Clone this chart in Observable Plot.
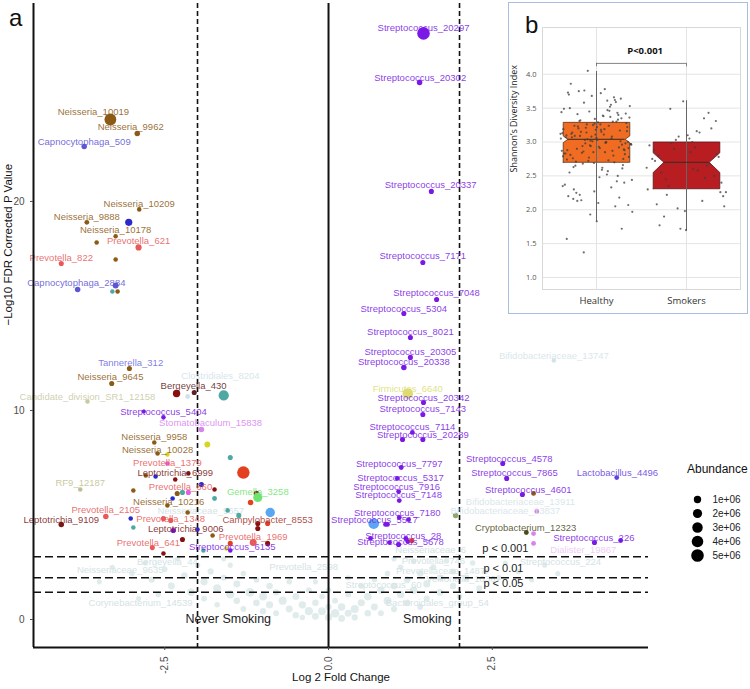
<!DOCTYPE html>
<html><head><meta charset="utf-8">
<script src="https://cdn.jsdelivr.net/npm/d3@7"></script>
<script src="https://cdn.jsdelivr.net/npm/@observablehq/plot@0.6"></script>
<style>
body{margin:0;background:#fff;font-family:"Liberation Sans",Arial,sans-serif;}
#wrap{position:relative;width:750px;height:689px;overflow:hidden;background:#fff;}
#main{position:absolute;left:0;top:0;}
#inset{position:absolute;left:508px;top:2px;width:240px;height:312px;box-sizing:border-box;border:1.5px solid #a9bedf;background:#fff;}
#insetPlot{position:absolute;left:0;top:0;}
#legend{position:absolute;left:685px;top:478px;}
.tag{position:absolute;font-size:24px;color:#111;line-height:1;}
#legTitle{position:absolute;left:687px;top:462px;font-size:12px;color:#111;}
svg{overflow:visible;}
</style></head>
<body><div id="wrap">
<div id="main"></div>
<div class="tag" style="left:9px;top:6px;">a</div>
<div id="inset"><div id="insetPlot"></div><div class="tag" style="left:16px;top:10px;">b</div></div>
<div id="legTitle">Abundance</div>
<div id="legend"></div>
</div>
<script>
// ---------- DATA: volcano plot (panel a) ----------
const xTicks = [-2.5, 0, 2.5];
const yTicks = [0, 10, 20];
const fcThresholds = [-2, 2];
const pThresholds = [3, 2, 1.3];
const pThresholdText = ["p < 0.001", "p < 0.01", "p < 0.05"];
const pTextX = [2.70, 2.67, 2.67];
const pTextY = [3.40, 2.44, 1.72];
const sideText = ["Never Smoking", "Smoking"];
const sideX = [-1.53, 1.51];

// significant taxa (dots)
const ptX = [-3.33,-2.92,-3.73,-2.89,-3.69,-3.05,-3.25,-3.54,-2.90,-4.08,-3.25,-3.83,-3.25,-3.30,-3.22,-3.04,-3.31,-3.68,-2.15,-2.32,-2.05,-1.60,-2.82,-2.52,-1.94,-2.66,-1.85,-2.61,-2.46,-1.50,-2.46,-1.30,-2.79,-2.34,-2.14,-2.64,-1.94,-1.74,-2.98,-3.79,-2.23,-2.14,-2.31,-1.74,-1.10,-1.08,-1.19,-2.38,-2.46,-2.15,-1.54,-1.37,-0.89,-3.40,-4.08,-3.02,-2.52,-2.41,-1.08,-0.93,-2.98,-2.00,-2.37,-1.77,-1.08,-2.23,-1.50,-1.15,-0.93,-2.69,-1.56,-1.50,-1.91,-2.52,
 1.45,1.39,1.57,1.44,1.65,1.15,1.25,1.25,1.15,1.21,1.45,1.44,1.28,1.44,1.13,2.66,1.11,2.72,4.40,1.05,1.07,2.96,3.13,1.08,3.18,1.08,0.69,0.87,3.02,1.18,1.07,1.27,4.06,4.46,3.13,3.13,3.44,1.94,0.90,1.22,0.64,1.21,0.93];
const ptY = [23.92,23.25,22.63,19.62,19.00,19.00,18.33,18.04,17.80,17.03,17.22,15.79,15.98,15.69,15.69,12.01,11.29,10.43,10.67,10.81,10.86,10.72,9.95,9.67,9.09,8.47,8.37,7.94,7.89,7.75,7.46,7.03,6.89,6.70,6.99,6.84,6.46,6.22,6.17,6.22,6.08,6.08,6.03,5.79,6.03,5.84,5.60,5.79,5.45,5.12,5.22,4.98,5.12,4.93,4.55,4.83,4.83,4.74,4.59,4.59,4.40,4.31,4.26,4.02,4.35,3.83,3.64,3.68,3.64,3.44,3.40,3.30,3.30,3.16,
 28.04,25.69,20.48,17.08,15.31,14.64,13.49,12.54,12.06,10.81,10.38,9.81,8.95,8.61,8.61,7.46,7.27,6.75,6.79,6.75,6.12,5.98,6.03,5.69,5.17,4.88,4.59,4.55,4.16,3.88,3.59,3.78,3.68,3.78,4.11,3.64,12.39,4.98,4.55,4.78,3.88,3.73,3.68];
const ptAbundance = [4.2e6,3e5,3e5,1e5,1.5e5,9e5,1e5,1e5,5e5,2e5,1e5,3e5,4e5,1e5,1e5,2e5,2e5,1e5,1.5e5,1e6,2e5,2.8e6,5e4,1e5,3e5,1e5,4e5,1e5,1e5,2e5,1e5,4.8e6,1e5,1e5,1e5,1e5,2e5,1e5,1e5,1e5,2e5,2e5,2e5,1.5e5,3e5,2e6,3e5,1e5,1e5,1e5,1e5,2e5,2.2e6,3e5,3e5,1e5,2e5,2e5,2e5,2e5,1e5,1e5,2e5,1e5,2e5,2e5,2e5,8e5,2e5,2e5,1e5,1e5,1e5,1e5,
 5e6,3e5,2e5,2e5,2e5,2e5,2e5,2e5,3e5,3e6,2e5,2e5,1.5e5,2e5,2e5,2e5,1.5e5,2e5,1.5e5,1.5e5,1.5e5,2e5,1.5e5,1.5e5,1.5e5,1.5e5,3.2e6,1.5e5,1.5e5,1.5e5,2e5,2e5,2e5,1.5e5,1.5e5,1.5e5,1e5,3e5,1.5e5,1.5e5,1.5e5,1.5e5,1.5e5];
const ptGroup = ["Neisseria","Neisseria","Capnocytophaga","Neisseria","Neisseria","blue","Neisseria","Neisseria","Prevotella","Prevotella","Neisseria","Capnocytophaga","Capnocytophaga","teal","Neisseria","Neisseria","Neisseria","SR1","Clostridiales","darkred","Bergeyella","teal","Streptococcus","Streptococcus","Stomatobaculum","Neisseria","yellow","Neisseria","yellow","teal","magenta","red","Neisseria","darkred","Leptotrichia","blue","blue","darkred","Neisseria","RF9","teal","magenta","Neisseria","teal","darkred","Gemella","red","blue","Neisseria","Neisseria","teal","teal","lightblue","Prevotella","Leptotrichia","blue","Prevotella","Prevotella","darkred","red","teal","blue","Streptococcus","Neisseria","darkred","darkred","red","Prevotella","darkred","Prevotella","yellow","Streptococcus","teal","darkred",
 "Streptococcus","Streptococcus","Streptococcus","Streptococcus","Streptococcus","Streptococcus","Streptococcus","Streptococcus","Streptococcus","Firmicutes","Streptococcus","Streptococcus","Streptococcus","Streptococcus","Streptococcus","Streptococcus","Streptococcus","Streptococcus","Lactobacillus","Streptococcus","Streptococcus","Streptococcus","Neisseria","Streptococcus","Stomatobaculum","Streptococcus","lightblue","Streptococcus","Cryptobacterium","Streptococcus","Streptococcus","red","Streptococcus","Streptococcus","Stomatobaculum","Stomatobaculum","Bifidobacteriaceae","olive","Streptococcus","Streptococcus","Streptococcus","Streptococcus","Streptococcus"];

// labels (ggrepel positions, data units)
const labelText = ["Neisseria_10019","Neisseria_9962","Capnocytophaga_509","Neisseria_10209","Neisseria_9888","Neisseria_10178","Prevotella_621","Prevotella_822","Capnocytophaga_2884","Tannerella_312","Neisseria_9645","Candidate_division_SR1_12158","Clostridiales_8204","Bergeyella_430","Streptococcus_5404","Stomatobaculum_15838","Neisseria_9958","Neisseria_10028","Prevotella_1379","Leptotrichia_6999","Prevotella_660","RF9_12187","Gemella_3258","Neisseria_10216","Prevotella_2105","Leptotrichia_9109","Prevotella_1348","Campylobacter_8553","Leptotrichia_9006","Prevotella_1969","Prevotella_641","Streptococcus_6135",
 "Streptococcus_20297","Streptococcus_20302","Streptococcus_20337","Streptococcus_7171","Streptococcus_7048","Streptococcus_5304","Streptococcus_8021","Streptococcus_20305","Streptococcus_20338","Firmicutes_6640","Streptococcus_20342","Streptococcus_7143","Streptococcus_7114","Streptococcus_20289","Streptococcus_4578","Streptococcus_7797","Streptococcus_7865","Lactobacillus_4496","Streptococcus_5317","Streptococcus_7916","Streptococcus_4601","Streptococcus_7148","Streptococcus_7180","Streptococcus_5517","Cryptobacterium_12323","Streptococcus_28","Streptococcus_5678","Streptococcus_226","Dialister_19867","Bifidobacteriaceae_13747","Bifidobacteriaceae_13911","Bifidobacteriaceae_13837"];
const labelX = [-3.59,-3.02,-3.73,-2.89,-3.69,-3.25,-2.90,-4.08,-3.85,-3.02,-3.33,-3.68,-1.65,-2.06,-2.52,-1.80,-2.66,-2.61,-2.46,-2.34,-2.26,-3.79,-1.08,-2.44,-3.40,-4.08,-2.41,-0.93,-2.18,-1.15,-2.75,-1.47,
 1.45,1.40,1.56,1.44,1.65,1.15,1.25,1.25,1.15,1.21,1.45,1.44,1.28,1.44,2.76,1.08,2.84,4.41,1.10,1.04,3.05,1.07,1.05,0.70,3.01,1.14,1.10,4.05,3.89,3.44,2.93,2.70];
const labelY = [24.26,23.54,22.87,19.90,19.28,18.66,18.09,17.32,16.08,12.25,11.58,10.67,11.63,11.15,9.95,9.38,8.71,8.13,7.51,6.99,6.36,6.51,6.08,5.60,5.22,4.78,4.83,4.78,4.31,3.97,3.68,3.49,
 28.28,25.93,20.77,17.37,15.60,14.88,13.78,12.82,12.34,11.05,10.62,10.05,9.19,8.85,7.70,7.46,6.99,7.03,6.79,6.32,6.22,5.98,5.12,4.78,4.40,4.02,3.73,3.92,3.35,12.63,5.60,5.17];
const labelGroup = ["Neisseria","Neisseria","Capnocytophaga","Neisseria","Neisseria","Neisseria","Prevotella","Prevotella","Capnocytophaga","Tannerella","Neisseria","SR1","Clostridiales","Bergeyella","Streptococcus","Stomatobaculum","Neisseria","Neisseria","Prevotella","Leptotrichia","Prevotella","RF9","Gemella","Neisseria","Prevotella","Leptotrichia","Prevotella","Campylobacter","Leptotrichia","Prevotella","Prevotella","Streptococcus",
 "Streptococcus","Streptococcus","Streptococcus","Streptococcus","Streptococcus","Streptococcus","Streptococcus","Streptococcus","Streptococcus","Firmicutes","Streptococcus","Streptococcus","Streptococcus","Streptococcus","Streptococcus","Streptococcus","Streptococcus","Lactobacillus","Streptococcus","Streptococcus","Streptococcus","Streptococcus","Streptococcus","Streptococcus","Cryptobacterium","Streptococcus","Streptococcus","Streptococcus","Dialister","Bifidobacteriaceae","Bifidobacteriaceae","Bifidobacteriaceae"];

// non-significant taxa (grey cloud)
const nsX = [-3.3,-3.0,-2.8,-2.7,-2.5,-2.4,-2.3,-2.2,-2.1,-2.0,-1.9,-1.9,-1.8,-1.7,-1.7,-1.6,-1.5,-1.5,-1.4,-1.4,-1.3,-1.3,-1.2,-1.1,-1.1,-1.0,-1.0,-0.9,-0.9,-0.8,-0.8,-0.7,-0.6,-0.6,-0.5,-0.5,-0.4,-0.4,-0.3,-0.3,-0.2,-0.2,-0.1,-0.1,0.0,0.0,0.1,0.1,0.2,0.2,0.3,0.3,0.4,0.4,0.5,0.5,0.6,0.6,0.7,0.7,0.8,0.8,0.9,0.9,1.0,1.0,1.1,1.1,1.2,1.2,1.3,1.3,1.4,1.4,1.5,1.5,1.6,1.7,1.7,1.8,1.9,1.9,2.0,2.1,2.2,2.3,2.4,2.6,2.7,2.9,3.1,3.3,3.5,-3.5,-2.6,-2.9,0.0,-0.2,0.3,-1.6,1.0];
const nsY = [2.5,2.2,2.7,1.9,2.4,1.6,2.9,2.1,1.3,2.6,1.8,1.0,2.3,1.5,0.7,2.0,1.2,2.6,0.9,1.7,0.5,2.2,1.3,0.8,1.9,0.4,1.1,1.6,0.7,0.3,1.3,0.9,0.5,1.8,0.2,1.1,0.7,0.1,0.4,1.4,0.15,0.8,0.4,1.1,0.1,0.6,0.3,0.9,0.05,0.6,0.3,1.2,0.5,0.1,0.8,1.6,0.3,1.1,0.6,1.9,1.4,0.3,0.9,2.2,1.6,0.5,1.2,2.5,0.8,1.9,1.4,2.8,0.6,2.2,1.7,1.0,2.5,1.3,2.0,2.8,1.6,2.3,1.1,2.0,2.7,1.5,2.3,2.0,2.7,2.3,1.9,2.6,2.2,1.8,1.2,1.0,1.4,1.8,2.0,2.9,2.9];
const nsAbundance = [2e5,3e5,2e5,5e5,3e5,8e5,2e5,6e5,1e6,3e5,9e5,4e5,5e5,1.2e6,3e5,4e5,1.5e6,2e5,6e5,8e5,4e5,3e5,1.8e6,7e5,4e5,5e5,1.2e6,6e5,9e5,4e5,5e5,1.5e6,8e5,3e5,6e5,7e5,1e6,3e5,1.4e6,4e5,8e5,6e5,1.2e6,3e5,9e5,5e5,1.6e6,4e5,7e5,1e6,8e5,4e5,1.3e6,5e5,9e5,3e5,6e5,1.1e6,8e5,3e5,9e5,4e5,1.2e6,3e5,7e5,5e5,1e6,3e5,6e5,8e5,1.1e6,3e5,4e5,6e5,9e5,5e5,4e5,7e5,5e5,3e5,6e5,4e5,3e5,5e5,3e5,4e5,3e5,3e5,2e5,3e5,2e5,2e5,2e5,2e5,3e5,2e5,3e5,2e5,2e5,2e5,2e5];
const nsLabelText = ["Neisseriaceae_9657","Bergeyella_44","Neisseriaceae_9635","Corynebacterium_14539","Prevotella_2598","Neisseriaceae_6","Prevotella_746","Prevotellaceae_1487","Streptococcus_60","Veillonella_1036","Bacteroidales_group_54","Streptococcus_224"];
const nsLabelX = [-1.95,-2.46,-3.18,-2.87,-0.38,1.56,1.60,1.71,0.84,2.02,1.66,3.54];
const nsLabelY = [5.17,2.73,2.39,0.81,2.49,3.35,2.82,2.34,1.63,1.96,0.81,2.73];

// legend
const legendValues = [1e6, 2e6, 3e6, 4e6, 5e6];
const legendLabels = ["1e+06", "2e+06", "3e+06", "4e+06", "5e+06"];

// ---------- DATA: Shannon diversity boxplot (panel b) ----------
const bGroups = ["Healthy", "Smokers"];
const bQ1 = [2.70, 2.31];
const bMedian = [3.04, 2.70];
const bQ3 = [3.29, 3.00];
const bNotchLo = [2.99, 2.55];
const bNotchHi = [3.09, 2.84];
const bWhiskerLo = [1.83, 1.69];
const bWhiskerHi = [4.04, 3.61];
const bYTicks = [1.0, 1.5, 2.0, 2.5, 3.0, 3.5, 4.0];
const bPText = "P<0.001";
const healthyValues = [3.12,2.85,3.41,2.96,3.27,2.74,3.05,3.58,2.91,3.18,2.63,3.33,3.02,2.79,3.47,3.09,2.88,3.22,2.55,3.66,3.14,2.97,3.38,2.71,3.01,3.25,2.83,3.52,2.94,3.16,2.48,3.07,3.30,2.77,3.44,2.99,3.20,2.66,3.11,3.73,2.87,3.03,3.36,2.59,3.24,2.92,3.08,3.49,2.73,3.15,2.98,3.29,2.81,3.62,3.04,2.44,3.19,2.90,3.35,2.69,3.10,3.55,2.86,3.00,3.26,2.76,3.43,2.95,3.13,2.52,3.31,2.89,3.06,3.70,2.80,3.21,2.97,3.39,2.65,3.17,3.01,2.37,3.46,2.84,3.28,2.93,3.12,3.59,2.72,3.05,2.99,3.23,2.61,3.34,2.88,3.08,3.76,2.78,3.15,2.30,3.40,2.94,3.19,2.57,3.32,2.82,3.03,3.50,2.70,3.26,2.96,3.11,2.25,3.64,2.85,3.07,3.37,2.68,3.22,2.91,3.14,2.42,3.45,2.87,3.00,3.75,2.75,3.18,2.20,3.30,2.98,3.53,2.62,3.09,2.18,3.68,2.83,3.24,2.14,3.42,2.10,3.86,2.05,4.05,1.97,3.78,2.13,1.72,2.27,1.57,2.33,1.37,2.07,3.72,2.16,2.50,1.93,2.35,3.61,2.22,2.40,1.83];
const smokerValues = [3.49,2.26,3.05,2.80,3.43,2.02,2.62,3.16,2.45,3.31,1.98,2.88,3.35,2.70,2.20,3.00,2.55,3.20,1.72,2.95,3.14,2.35,2.78,3.10,2.08,2.65,3.03,2.26,2.92,1.90,2.50,3.60,2.75,2.13,2.98,2.40,2.85,1.77,2.68,3.08,2.30,2.58,2.22,2.82,1.70,2.72,2.47,2.90,2.05,2.60];

// ---------- STYLE ----------
const colorOf = {
  Neisseria:"#8b5a14", Capnocytophaga:"#5d55d6", Prevotella:"#e85a5a", Leptotrichia:"#7a1616",
  Streptococcus:"#7a18e6", Tannerella:"#6b6be6", Bergeyella:"#5e2020", SR1:"#c9c9a5",
  Clostridiales:"#cfe2e8", Stomatobaculum:"#d884ef", RF9:"#bfbf92", Gemella:"#6fe36f",
  Campylobacter:"#a3312a", Firmicutes:"#dcdc70", Lactobacillus:"#6440e0", Cryptobacterium:"#4a4a1c",
  Dialister:"#eec3f5", Bifidobacteriaceae:"#d3e3e8", teal:"#4ea9a3", blue:"#2a2acc",
  lightblue:"#5aa6f2", yellow:"#d6d620", red:"#e2401f", darkred:"#8a1010", magenta:"#e060e0", olive:"#8fa870"
};
const nsColor = "#d5e4e4";
const font = "Liberation Sans, Arial, sans-serif";
const rScale = {type:"sqrt", domain:[0, 5e6], range:[1.6, 6.3]};
const X0 = -4.504, X1 = 4.885, Y0 = -1.34, Y1 = 29.47;

const points = ptX.map((x,i)=>({x, y:ptY[i], ab:ptAbundance[i], col:colorOf[ptGroup[i]]}));
const labels = labelText.map((t,i)=>({t, x:labelX[i], y:labelY[i], col:colorOf[labelGroup[i]]}));
const ns = nsX.map((x,i)=>({x, y:nsY[i], ab:nsAbundance[i]}));
const nsLabels = nsLabelText.map((t,i)=>({t, x:nsLabelX[i], y:nsLabelY[i]}));
const pLabels = pThresholdText.map((t,i)=>({t, x:pTextX[i], y:pTextY[i]}));
const sides = sideText.map((t,i)=>({t, x:sideX[i], y:0}));

const main = Plot.plot({
  width:750, height:689, marginLeft:33, marginRight:102, marginTop:3, marginBottom:42,
  style:{fontFamily:font, background:"transparent"},
  x:{domain:[X0, X1]}, y:{domain:[Y0, Y1]},
  r:rScale, color:{type:"identity"},
  marks:[
    Plot.dot(ns, {x:"x", y:"y", r:"ab", fill:nsColor, fillOpacity:0.75}),
    Plot.text(nsLabels, {x:"x", y:"y", text:"t", fill:"#d4e3e5", fontSize:9.5}),
    Plot.ruleY(pThresholds, {stroke:"#111", strokeWidth:1.6, strokeDasharray:"8,4"}),
    Plot.ruleX(fcThresholds, {stroke:"#111", strokeWidth:1.6, strokeDasharray:"5,3"}),
    Plot.ruleX([0], {stroke:"#111", strokeWidth:2}),
    Plot.dot(points, {x:"x", y:"y", r:"ab", fill:"col", sort:{channel:"r", reverse:true}}),
    Plot.text(labels, {x:"x", y:"y", text:"t", fill:"col", fillOpacity:0.88, fontSize:9.5}),
    Plot.text(pLabels, {x:"x", y:"y", text:"t", fill:"#222", fontSize:11}),
    Plot.text(sides, {x:"x", y:"y", text:"t", fill:"#222", fontSize:12.5}),
    Plot.ruleX([X0], {stroke:"#111", strokeWidth:2}),
    Plot.ruleY([Y0], {stroke:"#111", strokeWidth:2}),
    Plot.axisX({ticks:xTicks, tickFormat:d=>d.toFixed(1), tickRotate:-90, tickSize:3, fontSize:10, color:"#4d4d4d", label:null}),
    Plot.axisY({ticks:yTicks, tickSize:3, fontSize:10, color:"#4d4d4d", label:null}),
    Plot.text(["Log 2 Fold Change"], {frameAnchor:"bottom", dy:33, fontSize:11.5, fill:"#111"}),
    Plot.text(["\u2212Log10 FDR Corrected P Value"], {frameAnchor:"left", rotate:-90, dx:-25, fontSize:11.5, fill:"#111"})
  ]
});
document.getElementById("main").append(main);

// ---------- Panel b ----------
const halfW = 0.37, notchFrac = [0.86, 0.68];
const polys = [];
bGroups.forEach((g,i)=>{
  const c = i+1, h = halfW, n = halfW*notchFrac[i];
  [[c-h,bQ1[i]],[c-h,bNotchLo[i]],[c-n,bMedian[i]],[c-h,bNotchHi[i]],[c-h,bQ3[i]],
   [c+h,bQ3[i]],[c+h,bNotchHi[i]],[c+n,bMedian[i]],[c+h,bNotchLo[i]],[c+h,bQ1[i]],[c-h,bQ1[i]]]
   .forEach(([x,y])=>polys.push({g, x, y}));
});
const boxFill = {Healthy:"#ef6c22", Smokers:"#b81d22"};
const boxStroke = {Healthy:"#5c3418", Smokers:"#5e1416"};
const stats = bGroups.map((g,i)=>({g, c:i+1, lo:bWhiskerLo[i], hi:bWhiskerHi[i], med:bMedian[i], n:halfW*notchFrac[i]}));
const jit = [];
healthyValues.forEach((v,i)=>jit.push({x:1 + (((i*0.6180339)%1)-0.5)*0.8, y:v}));
smokerValues.forEach((v,i)=>jit.push({x:2 + (((i*0.6180339+0.3)%1)-0.5)*0.9, y:v}));

const inset = Plot.plot({
  width:237, height:309, marginLeft:33, marginRight:6, marginTop:24, marginBottom:23,
  style:{fontFamily:"Open Sans, Liberation Sans, sans-serif", background:"transparent"},
  x:{domain:[0.4, 2.6]}, y:{domain:[0.823, 4.69]}, color:{type:"identity"},
  marks:[
    Plot.gridY(bYTicks, {stroke:"#e4e4e4", strokeOpacity:1}),
    Plot.gridX([1,2], {stroke:"#e4e4e4", strokeOpacity:1}),
    Plot.frame({stroke:"#d8d8d8"}),
    Plot.line(polys, {x:"x", y:"y", z:"g", fill:d=>boxFill[d.g], stroke:d=>boxStroke[d.g], strokeWidth:0.8}),
    Plot.ruleX(stats, {x:"c", y1:"lo", y2:"hi", stroke:"#666", strokeWidth:1}),
    Plot.ruleY(stats, {y:"med", x1:d=>d.c-d.n, x2:d=>d.c+d.n, stroke:"#3a2a20", strokeWidth:1}),
    Plot.dot(jit, {x:"x", y:"y", r:1.1, fill:"#3d3d3d", fillOpacity:0.75}),
    Plot.ruleY([4.16], {x1:1, x2:2, stroke:"#666", strokeWidth:0.8}),
    Plot.ruleX([1,2], {y1:4.11, y2:4.16, stroke:"#666", strokeWidth:0.8}),
    Plot.text([bPText], {x:1.54, y:4.34, fontWeight:"bold", fontSize:9.5, fill:"#111"}),
    Plot.axisY({ticks:bYTicks, tickFormat:d=>d.toFixed(1), tickSize:0, tickPadding:6, fontSize:7.5, color:"#555", label:null}),
    Plot.axisX({ticks:[1,2], tickFormat:(d,i)=>bGroups[d-1], tickSize:0, tickPadding:8, fontSize:9.5, color:"#333", label:null}),
    Plot.text(["Shannon\u2019s Diversity Index"], {frameAnchor:"left", rotate:-90, dx:-28, dy:14, fontSize:9, fill:"#222"})
  ]
});
document.getElementById("insetPlot").append(inset);

// ---------- legend ----------
const legend = Plot.plot({
  width:65, height:95, margin:0,
  style:{fontFamily:font, background:"transparent"},
  x:{domain:[0,1], range:[12,60], axis:null}, y:{type:"point", domain:legendValues, range:[12,85], axis:null},
  r:rScale,
  marks:[
    Plot.dot(legendValues, {x:0, y:d=>d, r:d=>d, fill:"#000"}),
    Plot.text(legendValues, {x:0, y:d=>d, text:(d,i)=>legendLabels[i], dx:15, textAnchor:"start", fontSize:10, fill:"#222"})
  ]
});
document.getElementById("legend").append(legend);
</script>
</body></html>
